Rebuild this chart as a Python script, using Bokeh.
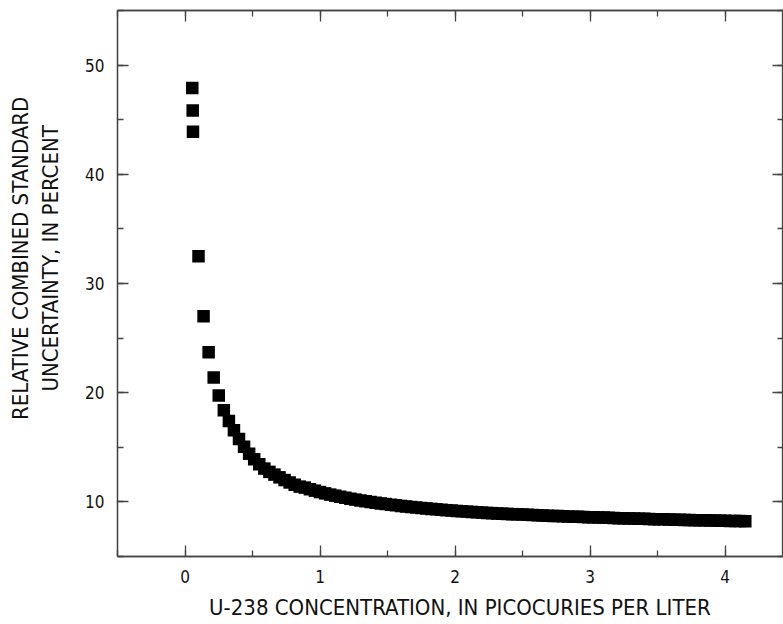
from bokeh.plotting import figure
from bokeh.models import (LinearAxis, SingleIntervalTicker, CustomJSTickFormatter,
                          Range1d, ColumnDataSource)
from bokeh.embed import file_html
from bokeh.resources import INLINE

# ---- data ----
x_low = [0.054, 0.057, 0.059]
y_low = [47.9, 45.85, 43.9]

x_step_start = 0.10
x_step = 0.0375
uncertainty = [
    32.5, 27.0, 23.7, 21.4, 19.75, 18.4, 17.4, 16.55, 15.75, 15.05,
    14.4, 13.9, 13.45, 13.05, 12.75, 12.5, 12.25, 12.0, 11.78, 11.57,
    11.4, 11.31, 11.16, 11.03, 10.90, 10.78, 10.67, 10.57, 10.47, 10.38,
    10.29, 10.21, 10.13, 10.06, 9.99, 9.92, 9.86, 9.80, 9.74, 9.69,
    9.63, 9.58, 9.53, 9.49, 9.44, 9.40, 9.36, 9.32, 9.28, 9.24,
    9.21, 9.17, 9.14, 9.11, 9.08, 9.05, 9.02, 8.99, 8.97, 8.94,
    8.92, 8.90, 8.88, 8.86, 8.84, 8.82, 8.80, 8.78, 8.76, 8.74,
    8.72, 8.70, 8.68, 8.66, 8.65, 8.63, 8.62, 8.60, 8.59, 8.57,
    8.56, 8.54, 8.53, 8.51, 8.50, 8.49, 8.47, 8.46, 8.45, 8.43,
    8.42, 8.41, 8.40, 8.39, 8.37, 8.36, 8.35, 8.34, 8.33, 8.32,
    8.31, 8.30, 8.29, 8.28, 8.27, 8.26, 8.25, 8.24, 8.23,
]
concentration = [x_step_start + x_step * i for i in range(len(uncertainty))]

x_all = x_low + concentration
y_all = y_low + uncertainty

x_ticks_interval = 1
y_ticks_interval = 10

x_title = "U-238 CONCENTRATION, IN PICOCURIES PER LITER"
y_title_lines = ["RELATIVE COMBINED STANDARD", "UNCERTAINTY, IN PERCENT"]

FONT = "'DejaVu Sans Condensed', Roboto, sans-serif"
AXIS_COLOR = "#444444"
TEXT_COLOR = "#111111"
NBSP = "\u00a0"

p = figure(frame_width=666, frame_height=546,
           x_range=Range1d(-0.5, 4.433), y_range=Range1d(5, 55),
           output_backend="svg", toolbar_location=None,
           min_border_left=117, min_border_right=0, min_border_top=10,
           min_border_bottom=62)
p.grid.visible = False
p.outline_line_color = AXIS_COLOR
p.outline_line_width = 1.3
p.background_fill_color = "white"
p.border_fill_color = "white"

src = ColumnDataSource(dict(x=x_all, y=y_all))
p.scatter("x", "y", source=src, marker="square", size=12.5,
          fill_color="black", line_color=None)


def style_axis(ax, labels=True):
    ax.axis_line_color = AXIS_COLOR
    ax.axis_line_width = 1.3
    ax.major_tick_line_color = AXIS_COLOR
    ax.minor_tick_line_color = AXIS_COLOR
    ax.major_tick_line_width = 1.3
    ax.minor_tick_line_width = 1.3
    ax.major_tick_in = 11
    ax.major_tick_out = 0
    ax.minor_tick_in = 6
    ax.minor_tick_out = 0
    if labels:
        ax.major_label_text_font = FONT
        ax.major_label_text_font_size = "17px"
        ax.major_label_text_color = TEXT_COLOR
        ax.major_label_standoff = 13
        ax.axis_label_text_font = FONT
        ax.axis_label_text_font_size = "22px"
        ax.axis_label_text_font_style = "normal"
        ax.axis_label_text_color = TEXT_COLOR
    else:
        ax.formatter = CustomJSTickFormatter(code="return ''")
        ax.major_label_text_font_size = "0px"
        ax.major_label_standoff = 0


p.xaxis.ticker = SingleIntervalTicker(interval=x_ticks_interval, num_minor_ticks=2)
p.yaxis.ticker = SingleIntervalTicker(interval=y_ticks_interval, num_minor_ticks=2)
style_axis(p.xaxis[0])
style_axis(p.yaxis[0])
# leading no-break spaces nudge the centred titles to their place in the original
p.xaxis.axis_label = NBSP * 3 + x_title
p.xaxis.axis_label_standoff = 9
p.yaxis.axis_label = "\n".join(NBSP * 8 + t for t in y_title_lines)
p.yaxis.axis_label_standoff = 19

top = LinearAxis(ticker=SingleIntervalTicker(interval=x_ticks_interval, num_minor_ticks=2))
style_axis(top, labels=False)
p.add_layout(top, "above")
right = LinearAxis(ticker=SingleIntervalTicker(interval=y_ticks_interval, num_minor_ticks=2))
style_axis(right, labels=False)
p.add_layout(right, "right")

open("out.html", "w").write(file_html(p, INLINE))
